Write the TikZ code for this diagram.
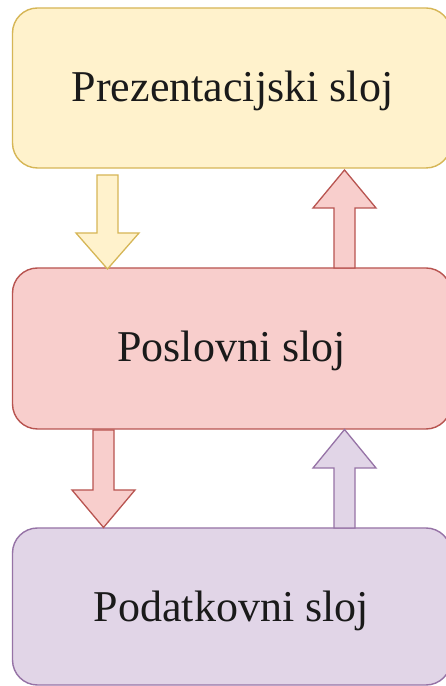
\documentclass[tikz,border=0pt]{standalone}
\usepackage{fontspec}
\setmainfont{Liberation Serif}
\definecolor{yfill}{HTML}{FFF2CC}
\definecolor{ydraw}{HTML}{D6B656}
\definecolor{rfill}{HTML}{F8CECC}
\definecolor{rdraw}{HTML}{B85450}
\definecolor{pfill}{HTML}{E1D5E7}
\definecolor{pdraw}{HTML}{9673A6}
\definecolor{txt}{HTML}{1A1A1A}
\tikzset{
  layerbox/.style={rectangle, rounded corners=25pt, line width=1.4pt, minimum width=438.5pt, inner sep=0pt},
  lbl/.style={anchor=base, inner sep=0pt, text=txt, font=\fontsize{44}{50}\selectfont},
  blk/.style={line width=1.3pt, line join=miter},
}
% block arrow: #1 x centre, #2 base y, #3 head-base y, #4 tip y, #5 style
\newcommand\blockarrow[5]{%
  \filldraw[blk,#5] ({#1-10.5},#2) -- ({#1+10.5},#2) -- ({#1+10.5},#3) -- ({#1+31.5},#3)
    -- (#1,#4) -- ({#1-31.5},#3) -- ({#1-10.5},#3) -- cycle;}
\begin{document}
\begin{tikzpicture}[x=1pt,y=1pt]
\useasboundingbox (0,0) rectangle (446,686);
\clip (0,0) rectangle (446,686);
\fill[white] (0,0) rectangle (446,686);
% layers
\node[layerbox, fill=yfill, draw=ydraw, minimum height=160pt] (pres) at (231.75,598) {};
\node[layerbox, fill=rfill, draw=rdraw, minimum height=161pt] (posl) at (231.75,337.5) {};
\node[layerbox, fill=pfill, draw=pdraw, minimum height=157pt] (poda) at (231.75,79.5) {};
% labels
\node[lbl] (prest) at (232.5,584) {Prezentacijski sloj};
\node[lbl] (poslt) at (231.5,324) {Poslovni sloj};
\node[lbl] (podat) at (231.5,64) {Podatkovni sloj};
% block arrows
\blockarrow{107.5}{511}{453}{417}{fill=yfill, draw=ydraw}
\blockarrow{344.5}{418}{478}{516}{fill=rfill, draw=rdraw}
\blockarrow{103.5}{256}{196}{158.5}{fill=rfill, draw=rdraw}
\blockarrow{344.5}{158}{218}{256.5}{fill=pfill, draw=pdraw}
\end{tikzpicture}
\end{document}
